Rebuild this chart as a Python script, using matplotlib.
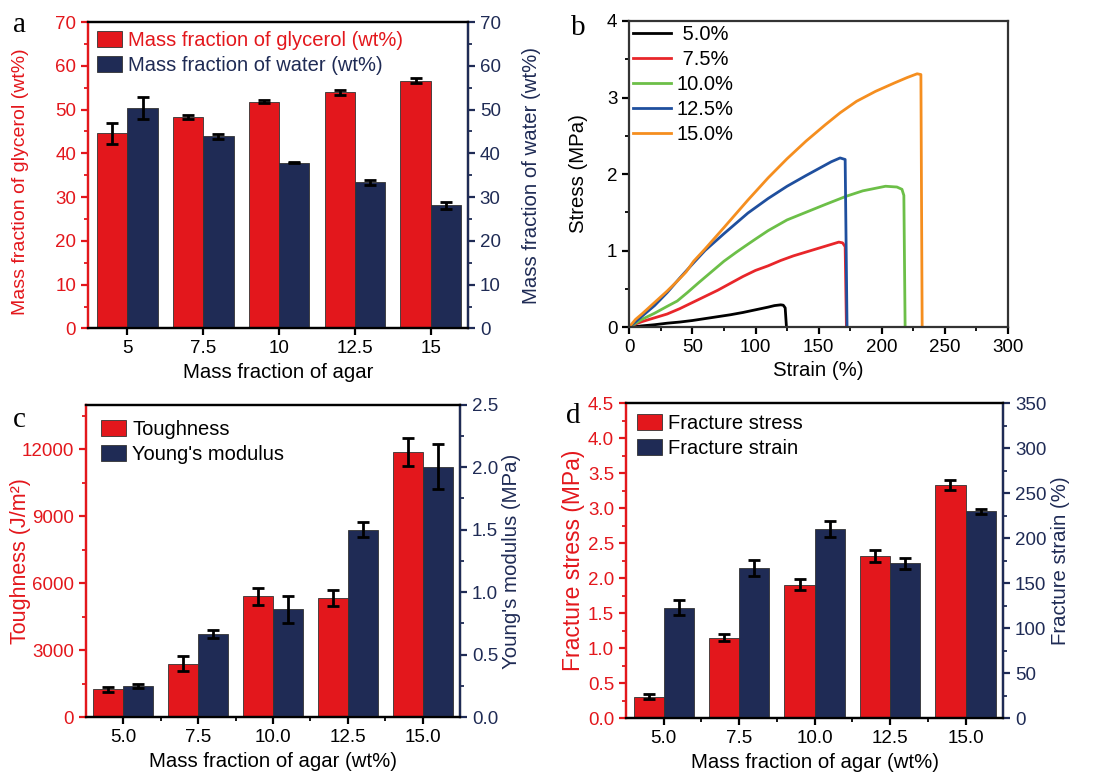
import matplotlib
matplotlib.use("Agg")
import matplotlib.pyplot as plt
import numpy as np
from matplotlib.ticker import AutoMinorLocator, MultipleLocator
from matplotlib.patches import Patch

# plotting parameters
plt.rcParams["font.family"] = ["Liberation Sans", "DejaVu Sans"]
plt.rcParams["font.size"] = 13
plt.rcParams["axes.linewidth"] = 1.6
plt.rcParams["xtick.major.width"] = 1.6
plt.rcParams["ytick.major.width"] = 1.6
plt.rcParams["xtick.minor.width"] = 1.3
plt.rcParams["ytick.minor.width"] = 1.3
plt.rcParams["xtick.major.size"] = 5
plt.rcParams["ytick.major.size"] = 5
plt.rcParams["xtick.minor.size"] = 3
plt.rcParams["ytick.minor.size"] = 3

RED = "#e3171c"
NAVY = "#1f2b55"
TICK_FS = 13.5
LABEL_FS = 14.7
LEGEND_FS = 14.5

# panel a
agar_a = ["5", "7.5", "10", "12.5", "15"]
glycerol = [44.6, 48.3, 51.8, 53.9, 56.6]
glycerol_err = [2.4, 0.5, 0.3, 0.5, 0.6]
water = [50.3, 43.9, 37.9, 33.4, 28.1]
water_err = [2.5, 0.6, 0.2, 0.6, 0.7]

# panel b
strain_50 = [0, 5, 10, 20, 30, 40, 50, 60, 70, 80, 90, 100, 110, 115, 120,
             122, 123.5, 124.5]
stress_50 = [0, 0.005, 0.015, 0.03, 0.05, 0.065, 0.085, 0.11, 0.135, 0.16,
             0.19, 0.225, 0.26, 0.28, 0.29, 0.285, 0.25, 0]
strain_75 = [0, 5, 10, 20, 30, 40, 50, 60, 70, 80, 90, 100, 110, 120, 130,
             140, 150, 160, 166, 169, 171, 172]
stress_75 = [0, 0.04, 0.07, 0.12, 0.17, 0.24, 0.32, 0.4, 0.48, 0.57, 0.66,
             0.74, 0.8, 0.87, 0.93, 0.98, 1.03, 1.08, 1.11, 1.1, 1.05, 0]
strain_100 = [0, 5, 10, 20, 30, 38, 46, 55, 65, 75, 85, 92, 100, 110, 125,
              140, 155, 172, 185, 203, 212, 216, 217.5, 218.5]
stress_100 = [0, 0.05, 0.1, 0.18, 0.27, 0.34, 0.45, 0.58, 0.72, 0.86, 0.98,
              1.06, 1.15, 1.26, 1.4, 1.5, 1.6, 1.71, 1.78, 1.84, 1.83, 1.8,
              1.72, 0]
strain_125 = [0, 5, 10, 20, 30, 40, 51, 60, 75, 94, 110, 125, 140, 150, 160,
              167, 171, 172.5]
stress_125 = [0, 0.07, 0.14, 0.28, 0.45, 0.64, 0.84, 1.0, 1.22, 1.49, 1.68,
              1.84, 1.98, 2.07, 2.16, 2.21, 2.19, 0]
strain_150 = [0, 5, 10, 20, 30, 38, 45, 51, 60, 75, 94, 110, 125, 140, 155,
              167, 180, 195, 210, 220, 228, 231, 232]
stress_150 = [0, 0.1, 0.17, 0.32, 0.47, 0.6, 0.72, 0.86, 1.02, 1.3, 1.66,
              1.95, 2.2, 2.43, 2.64, 2.8, 2.95, 3.08, 3.19, 3.26, 3.31, 3.3, 0]
curve_labels = [" 5.0%", " 7.5%", "10.0%", "12.5%", "15.0%"]
curve_colors = ["black", "#e8262a", "#6cbf48", "#1f4f9e", "#f58e1f"]

# panels c and d
agar_cd = ["5.0", "7.5", "10.0", "12.5", "15.0"]
toughness = [1250, 2400, 5410, 5330, 11900]
toughness_err = [100, 330, 370, 350, 630]
youngs = [0.253, 0.665, 0.862, 1.50, 2.005]
youngs_err = [0.015, 0.035, 0.11, 0.06, 0.18]
frac_stress = [0.31, 1.15, 1.91, 2.32, 3.33]
frac_stress_err = [0.03, 0.05, 0.08, 0.09, 0.07]
frac_strain = [123, 167, 210, 172, 230]
frac_strain_err = [8, 9, 9, 6, 3]


def twin_bars(ax, labels, lvals, lerr, rvals, rerr, lname, rname,
              lylim, rylim, lstep, rstep, xlabel, lylabel, rylabel,
              lpos, rpos, minor_x=False, legend_colored=False,
              lfs=LABEL_FS, legpad=0.25):
    x = np.arange(len(labels))
    w = 0.4
    ax2 = ax.twinx()
    ax.bar(x - w / 2, lvals, w, color=RED, edgecolor="#333333", linewidth=0.6)
    ax.errorbar(x - w / 2, lvals, yerr=lerr, fmt="none", ecolor="black",
                elinewidth=2, capsize=4, capthick=2)
    ax2.bar(x + w / 2, rvals, w, color=NAVY, edgecolor="#333333", linewidth=0.6)
    ax2.errorbar(x + w / 2, rvals, yerr=rerr, fmt="none", ecolor="black",
                 elinewidth=2, capsize=4, capthick=2)
    ax.set_xlim(-0.5, len(labels) - 0.5)
    ax.set_xticks(x)
    ax.set_xticklabels(labels)
    if minor_x:
        ax.set_xticks(x[:-1] + 0.5, minor=True)
    ax.set_ylim(*lylim)
    ax2.set_ylim(*rylim)
    ax.yaxis.set_major_locator(MultipleLocator(lstep))
    ax2.yaxis.set_major_locator(MultipleLocator(rstep))
    ax.yaxis.set_minor_locator(AutoMinorLocator(2))
    ax2.yaxis.set_minor_locator(AutoMinorLocator(2))
    ax.tick_params(axis="y", which="both", colors=RED, labelsize=TICK_FS)
    ax2.tick_params(axis="y", which="both", colors=NAVY, labelsize=TICK_FS)
    ax.tick_params(axis="x", which="both", labelsize=TICK_FS)
    ax.spines["left"].set_color(RED)
    ax2.spines["left"].set_color(RED)
    ax2.spines["right"].set_color(NAVY)
    ax.set_xlabel(xlabel, fontsize=LABEL_FS)
    ax.set_ylabel(lylabel, color=RED, fontsize=lfs)
    ax2.set_ylabel(rylabel, color=NAVY, fontsize=LABEL_FS)
    ax.yaxis.set_label_coords(lpos, 0.5)
    ax2.yaxis.set_label_coords(rpos, 0.5)
    handles = [Patch(facecolor=RED, edgecolor="#333333", linewidth=0.6),
               Patch(facecolor=NAVY, edgecolor="#333333", linewidth=0.6)]
    leg = ax2.legend(handles, [lname, rname], loc="upper left", frameon=False,
                     fontsize=LEGEND_FS, handlelength=1.25, handleheight=0.85,
                     handletextpad=0.3, labelspacing=0.3,
                     borderaxespad=legpad, borderpad=0.2)
    if legend_colored:
        leg.get_texts()[0].set_color(RED)
        leg.get_texts()[1].set_color(NAVY)
    return ax2


fig = plt.figure(figsize=(10.94, 7.72), dpi=100)

# a
ax_a = fig.add_axes([0.0804, 0.5745, 0.3474, 0.397])
ax_a2 = twin_bars(ax_a, agar_a, glycerol, glycerol_err, water, water_err,
                  "Mass fraction of glycerol (wt%)",
                  "Mass fraction of water (wt%)",
                  (0, 70), (0, 70), 10, 10, "Mass fraction of agar",
                  "Mass fraction of glycerol (wt%)",
                  "Mass fraction of water (wt%)", -0.155, 1.142,
                  legend_colored=True, lfs=14.0)
ax_a.set_xlim(-0.52, 4.49)
ax_a.yaxis.set_label_coords(-0.155, 0.48)

# b
ax_b = fig.add_axes([0.5752, 0.5764, 0.3462, 0.3964])
strains = [strain_50, strain_75, strain_100, strain_125, strain_150]
stresses = [stress_50, stress_75, stress_100, stress_125, stress_150]
for s, t, lab, col in zip(strains, stresses, curve_labels, curve_colors):
    ax_b.plot(s, t, color=col, linewidth=2, label=lab)
ax_b.set_xlim(0, 300)
ax_b.set_ylim(0, 4)
ax_b.xaxis.set_major_locator(MultipleLocator(50))
ax_b.xaxis.set_minor_locator(AutoMinorLocator(2))
ax_b.yaxis.set_major_locator(MultipleLocator(1))
ax_b.yaxis.set_minor_locator(AutoMinorLocator(2))
ax_b.tick_params(labelsize=TICK_FS)
for sp in ax_b.spines.values():
    sp.set_color("#333333")
ax_b.set_xlabel("Strain (%)", fontsize=LABEL_FS)
ax_b.set_ylabel("Stress (MPa)", fontsize=LABEL_FS)
ax_b.yaxis.set_label_coords(-0.11, 0.5)
ax_b.legend(loc="upper left", frameon=False, fontsize=LEGEND_FS,
            handlelength=1.85, handletextpad=0.3, labelspacing=0.3,
            borderaxespad=0.2, borderpad=0.0)

# c
ax_c = fig.add_axes([0.0786, 0.0709, 0.3419, 0.4049])
twin_bars(ax_c, agar_cd, toughness, toughness_err, youngs, youngs_err,
          "Toughness", "Young's modulus", (0, 14000), (0, 2.5), 3000, 0.5,
          "Mass fraction of agar (wt%)", "Toughness (J/m²)",
          "Young's modulus (MPa)", -0.147, 1.112, minor_x=True, lfs=15.5,
          legpad=0.55)

# d
ax_d = fig.add_axes([0.5722, 0.0696, 0.3449, 0.408])
twin_bars(ax_d, agar_cd, frac_stress, frac_stress_err, frac_strain,
          frac_strain_err, "Fracture stress", "Fracture strain",
          (0, 4.5), (0, 350), 0.5, 50, "Mass fraction of agar (wt%)",
          "Fracture stress (MPa)", "Fracture strain (%)", -0.109, 1.127,
          minor_x=True, lfs=16.5, legpad=0.35)

# panel letters
for x, y, s in [(0.012, 0.958, "a"), (0.522, 0.955, "b"),
                (0.012, 0.447, "c"), (0.517, 0.452, "d")]:
    fig.text(x, y, s, fontsize=21, family="Liberation Serif")

fig.savefig("out.png", dpi=100)
